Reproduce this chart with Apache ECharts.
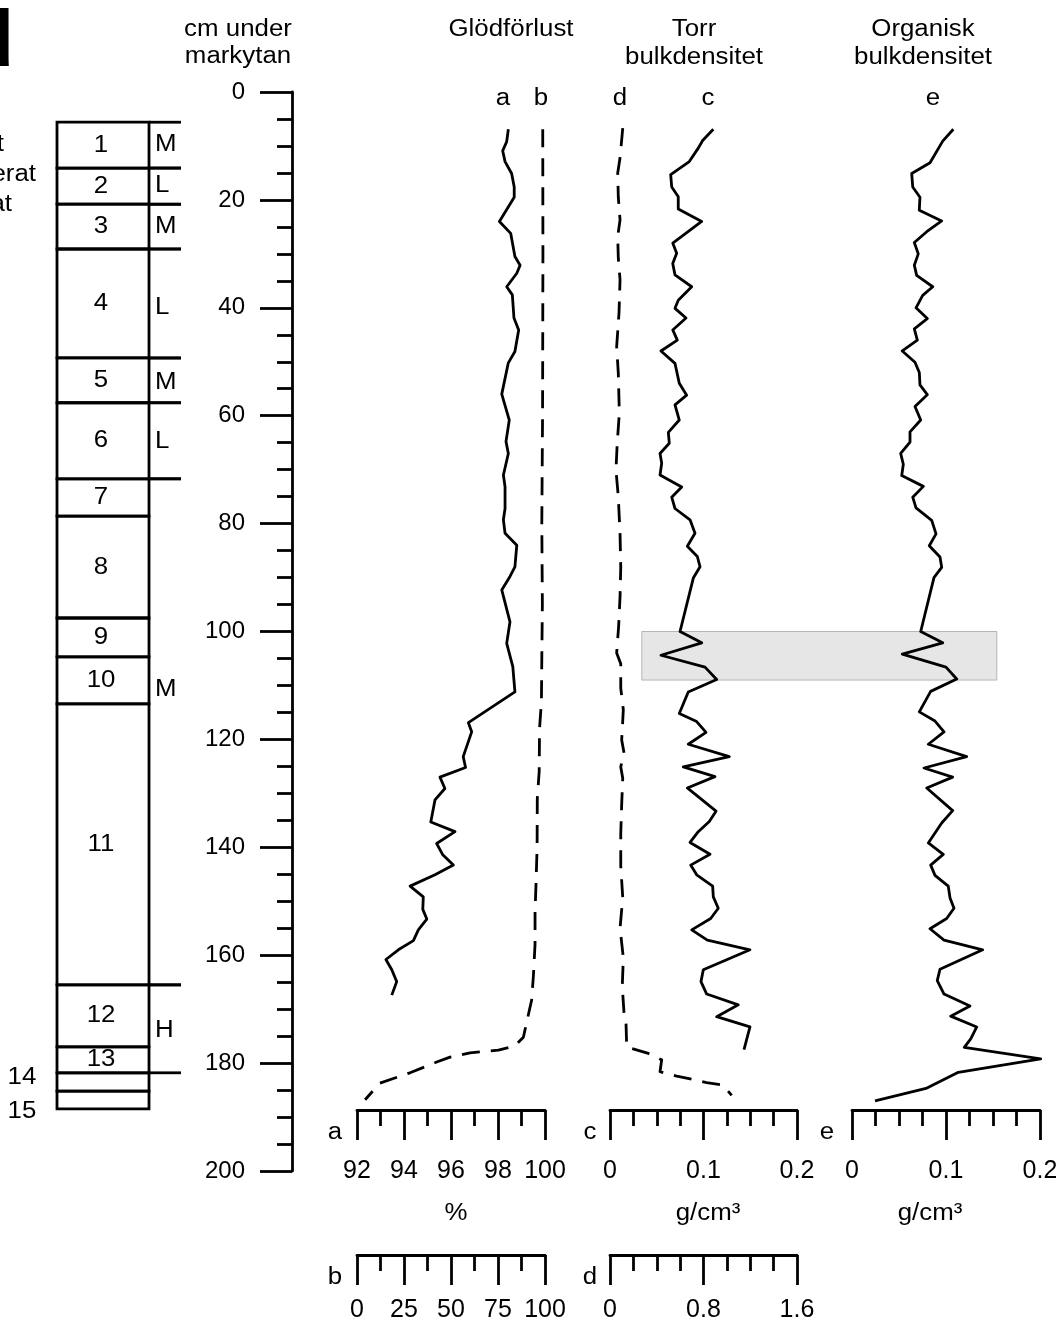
<!DOCTYPE html>
<html>
<head>
<meta charset="utf-8">
<script src="https://cdn.jsdelivr.net/npm/echarts@6/dist/echarts.min.js"></script>
<style>
  html, body { margin: 0; padding: 0; background: #fff; }
  #chart { width: 1056px; height: 1322px; }
</style>
</head>
<body>
<div id="chart"></div>
<script>
// ---------------- data ----------------
// Stratigraphic layers (cm below surface)
const layerTops    = [5.6, 14.1, 20.8, 29.1, 49.3, 57.6, 71.7, 78.6, 97.5, 104.7, 113.4, 165.5, 177.0, 181.8, 185.2];
const layerBottoms = [14.1, 20.8, 29.1, 49.3, 57.6, 71.7, 78.6, 97.5, 104.7, 113.4, 165.5, 177.0, 181.8, 185.2, 188.5];
const layerNames   = ['1', '2', '3', '4', '5', '6', '7', '8', '9', '10', '11', '12', '13', '14', '15'];

// Humification units beside the column
const unitTops        = [5.6, 14.1, 20.8, 29.1, 49.3, 57.6, 71.7, 165.5];
const unitBottoms     = [14.1, 20.8, 29.1, 49.3, 57.6, 71.7, 165.5, 181.8];
const unitNames       = ['M', 'L', 'M', 'L', 'M', 'L', 'M', 'H'];
const unitLabelDepths = [9.8, 17.4, 25.0, 40.0, 53.9, 64.7, 110.8, 173.9];

// a: loss on ignition (%), fine scale 92–100
const aDepth = [6.9, 9.2, 10.9, 12.9, 15.1, 17.6, 19.5, 24.0, 26.2, 30.5, 32.1, 33.6, 36.1, 37.6, 41.9, 44.1, 48.1, 50.2, 56.0, 60.8, 64.8, 67.0, 71.0, 73.2, 77.2, 79.3, 81.8, 84.0, 88.0, 89.8, 92.3, 98.2, 102.2, 106.5, 111.2, 116.9, 118.6, 123.2, 125.2, 127.0, 129.1, 131.2, 135.3, 137.1, 139.3, 141.4, 143.3, 145.1, 147.2, 149.2, 151.5, 153.3, 155.3, 157.3, 159.0, 160.8, 162.7, 164.9, 167.4];
const aValue = [98.44, 98.37, 98.20, 98.30, 98.58, 98.69, 98.69, 98.06, 98.54, 98.72, 98.94, 98.80, 98.37, 98.61, 98.68, 98.88, 98.72, 98.44, 98.16, 98.48, 98.34, 98.44, 98.23, 98.30, 98.30, 98.23, 98.30, 98.80, 98.72, 98.51, 98.16, 98.51, 98.37, 98.63, 98.72, 96.74, 96.88, 96.52, 96.62, 95.53, 95.74, 95.32, 95.14, 96.17, 95.39, 95.65, 96.10, 95.32, 94.26, 94.82, 94.80, 94.97, 94.61, 94.40, 93.76, 93.23, 93.48, 93.69, 93.48];

// b: loss on ignition (%), full scale 0–100
const bDepth = [6.9, 30, 60, 80, 95, 105, 113, 118, 126, 131, 140, 147, 152, 158, 164, 168.3, 175.2, 176.8, 177.6, 178.1, 178.9, 179.8, 181.8, 183.7, 186.8];
const bValue = [98.8, 98.9, 98.7, 98.3, 98.6, 98.3, 98.1, 97.1, 96.9, 95.9, 95.8, 95.2, 94.7, 94.7, 93.8, 92.9, 88.5, 84.0, 75.2, 60.1, 49.5, 42.4, 28.2, 12.2, 4.3];

// c: dry bulk density (g/cm³), fine scale 0–0.2
const cDepth = [6.9, 9.0, 10.4, 12.9, 15.3, 17.6, 19.4, 21.7, 24.0, 28.0, 29.9, 31.8, 33.9, 36.1, 38.6, 40.1, 41.9, 44.1, 46.0, 48.0, 50.3, 54.0, 56.2, 58.0, 60.8, 63.1, 65.1, 67.0, 68.8, 71.0, 73.2, 75.1, 77.2, 79.3, 81.8, 84.2, 86.1, 88.0, 90.1, 100.0, 102.1, 104.4, 106.6, 108.9, 111.2, 115.2, 116.7, 118.7, 120.9, 123.2, 125.1, 126.9, 129.0, 133.3, 135.2, 137.1, 139.1, 141.3, 143.3, 145.1, 147.2, 149.2, 151.3, 153.2, 155.3, 157.2, 159.0, 162.7, 164.9, 167.2, 169.2, 171.4, 173.3, 177.5];
const cValue = [0.1105, 0.0991, 0.0944, 0.0848, 0.0649, 0.0660, 0.0730, 0.0730, 0.0981, 0.0671, 0.0713, 0.0671, 0.0695, 0.0874, 0.0730, 0.0695, 0.0813, 0.0671, 0.0720, 0.0545, 0.0695, 0.0741, 0.0820, 0.0695, 0.0741, 0.0624, 0.0634, 0.0535, 0.0553, 0.0535, 0.0767, 0.0660, 0.0695, 0.0856, 0.0909, 0.0827, 0.0934, 0.0963, 0.0891, 0.0749, 0.0981, 0.0545, 0.1016, 0.1141, 0.0837, 0.0741, 0.0927, 0.1027, 0.0837, 0.1276, 0.0784, 0.1123, 0.0827, 0.1134, 0.1062, 0.0944, 0.0856, 0.1070, 0.0863, 0.0927, 0.1098, 0.1105, 0.1158, 0.1077, 0.0874, 0.1041, 0.1497, 0.0998, 0.0973, 0.1034, 0.1372, 0.1141, 0.1497, 0.1433];

// d: dry bulk density (g/cm³), full scale 0–1.6
const dDepth = [6.7, 12.2, 15.0, 19.5, 23.7, 26.8, 30.8, 34.8, 41.0, 47.2, 52.1, 59.5, 65.0, 70.1, 75.0, 82.0, 88.0, 93.5, 99.0, 104.0, 106.0, 110.5, 114.5, 120.1, 122.5, 125.1, 127.2, 132.0, 137.5, 143.5, 149.3, 155.0, 160.5, 165.8, 170.7, 172.6, 177.0, 178.2, 179.4, 181.6, 182.4, 183.6, 184.1, 186.0];
const dValue = [0.109, 0.086, 0.066, 0.071, 0.086, 0.066, 0.071, 0.086, 0.077, 0.057, 0.071, 0.080, 0.062, 0.051, 0.071, 0.086, 0.092, 0.086, 0.074, 0.057, 0.092, 0.092, 0.114, 0.100, 0.120, 0.092, 0.109, 0.100, 0.092, 0.092, 0.109, 0.086, 0.114, 0.105, 0.120, 0.137, 0.143, 0.328, 0.442, 0.428, 0.571, 0.827, 0.969, 1.041];

// e: organic bulk density (g/cm³), scale 0–0.2
const eDepth = [6.9, 9.1, 13.1, 15.1, 17.6, 19.5, 21.9, 23.9, 25.9, 27.9, 30.0, 32.1, 34.0, 36.1, 37.7, 40.0, 42.0, 43.9, 46.0, 48.0, 50.1, 52.0, 54.3, 56.1, 58.3, 60.8, 63.0, 64.9, 67.0, 69.0, 71.1, 73.1, 75.1, 77.1, 79.4, 81.9, 84.1, 86.2, 88.1, 90.0, 100.0, 102.1, 104.2, 106.6, 108.8, 111.1, 114.9, 116.6, 118.6, 120.9, 123.2, 125.3, 127.0, 129.0, 133.2, 135.5, 139.2, 141.3, 143.3, 145.2, 147.2, 149.4, 151.3, 153.2, 155.1, 157.2, 159.0, 162.6, 164.7, 167.2, 169.4, 171.3, 173.3, 175.5, 177.1, 179.2, 181.7, 184.7, 187.0];
const eValue = [0.1078, 0.0965, 0.0830, 0.0635, 0.0646, 0.0723, 0.0716, 0.0954, 0.0795, 0.0663, 0.0705, 0.0663, 0.0688, 0.0859, 0.0752, 0.0681, 0.0801, 0.0663, 0.0695, 0.0535, 0.0670, 0.0716, 0.0723, 0.0801, 0.0670, 0.0731, 0.0617, 0.0617, 0.0518, 0.0546, 0.0529, 0.0759, 0.0646, 0.0681, 0.0848, 0.0894, 0.0822, 0.0936, 0.0954, 0.0872, 0.0731, 0.0965, 0.0535, 0.1000, 0.1114, 0.0837, 0.0716, 0.0883, 0.0979, 0.0812, 0.1220, 0.0766, 0.1071, 0.0795, 0.1071, 0.0954, 0.0812, 0.0971, 0.0837, 0.0883, 0.1024, 0.1043, 0.1085, 0.1007, 0.0830, 0.0979, 0.1390, 0.0936, 0.0907, 0.0979, 0.1255, 0.1050, 0.1327, 0.1263, 0.1195, 0.2007, 0.1131, 0.0787, 0.0245];

// Highlighted depth interval
const highlightDepth = [100, 109];

// ---------------- chart ----------------
const FONT_FAMILY = '"Liberation Sans", Arial, sans-serif';
const FS_TEXT = 23.5;     // free text (slightly widened below)
const STRETCH = 1.1;
const FS_DEPTH = 24;
const FS_SCALE = 25;
const LW = 2.8;
const chart = echarts.init(document.getElementById('chart'), null, { renderer: 'canvas' });

const TOP = 92, H = 1079;          // depth 0 → 200 cm
const BOX_RIGHT = 0.742;           // column box edge (fraction of the column grid)

function pairs(depths, values) {
  return depths.map((d, i) => [values[i], d]);
}

function hiddenX(grid, min, max) {
  return { gridIndex: grid, type: 'value', min, max, show: false };
}
function hiddenY(grid, min, max, inverse) {
  return { gridIndex: grid, type: 'value', min, max, inverse: !!inverse, show: false };
}
function scaleAxis(grid, min, max, interval, split, lower) {
  return {
    gridIndex: grid, type: 'value', min, max, interval, position: 'bottom',
    axisLine: { show: true, onZero: false, lineStyle: { color: '#000', width: LW } },
    axisTick: { show: true, length: 30, lineStyle: { color: '#000', width: LW } },
    minorTick: { show: true, splitNumber: split, length: 16, lineStyle: { color: '#000', width: LW } },
    splitLine: { show: false }, minorSplitLine: { show: false },
    axisLabel: { show: true, margin: lower ? 43 : 49, color: '#000', fontSize: FS_SCALE, fontFamily: FONT_FAMILY, showMinLabel: true, showMaxLabel: true, hideOverlap: false }
  };
}

const grids = [
  { left: 292, top: TOP, width: 1, height: H },        // 0 depth axis
  { left: 57, top: TOP, width: 124, height: H },       // 1 strat column
  { left: 357, top: TOP, width: 188, height: H },      // 2 loss on ignition
  { left: 610, top: TOP, width: 187, height: H },      // 3 dry bulk density
  { left: 852, top: TOP, width: 188, height: H },      // 4 organic bulk density
  { left: 357, top: 1100, width: 188, height: 10 },    // 5 scale a
  { left: 357, top: 1245, width: 188, height: 10 },    // 6 scale b
  { left: 610, top: 1100, width: 187, height: 10 },    // 7 scale c
  { left: 610, top: 1245, width: 187, height: 10 },    // 8 scale d
  { left: 852, top: 1100, width: 188, height: 10 }     // 9 scale e
].map(g => Object.assign({ outerBoundsMode: 'none', containLabel: false }, g));

const xAxes = [
  hiddenX(0, 0, 1),
  hiddenX(1, 0, 1),
  hiddenX(2, 92, 100),   // 2 a
  hiddenX(2, 0, 100),    // 3 b
  hiddenX(3, 0, 0.2),    // 4 c
  hiddenX(3, 0, 1.6),    // 5 d
  hiddenX(4, 0, 0.2),    // 6 e
  scaleAxis(5, 92, 100, 2, 2, false),
  scaleAxis(6, 0, 100, 25, 2, true),
  scaleAxis(7, 0, 0.2, 0.1, 4, false),
  scaleAxis(8, 0, 1.6, 0.8, 4, true),
  scaleAxis(9, 0, 0.2, 0.1, 4, false)
];

const yAxes = [
  {
    gridIndex: 0, type: 'value', inverse: true, min: 0, max: 200, interval: 20, position: 'left',
    axisLine: { show: true, onZero: false, lineStyle: { color: '#000', width: LW } },
    axisTick: { show: true, length: 32, lineStyle: { color: '#000', width: LW } },
    minorTick: { show: true, splitNumber: 4, length: 15, lineStyle: { color: '#000', width: LW } },
    splitLine: { show: false }, minorSplitLine: { show: false },
    axisLabel: { margin: 47, color: '#000', fontSize: FS_DEPTH, fontFamily: FONT_FAMILY, showMinLabel: true, showMaxLabel: true }
  },
  hiddenY(1, 0, 200, true),
  hiddenY(2, 0, 200, true),
  hiddenY(3, 0, 200, true),
  hiddenY(4, 0, 200, true),
  hiddenY(5, 0, 1), hiddenY(6, 0, 1), hiddenY(7, 0, 1), hiddenY(8, 0, 1), hiddenY(9, 0, 1)
];

// Labels of thin layers go outside the column and are spread apart
const outsideLabelDepth = {};
(function () {
  const thin = [];
  layerTops.forEach((t, i) => { if ((layerBottoms[i] - t) * H / 200 < 22) thin.push(i); });
  const mids = thin.map(i => (layerTops[i] + layerBottoms[i]) / 2);
  const gap = 34 * 200 / H;
  const avg = mids.reduce((s, v) => s + v, 0) / mids.length + 0.6;
  thin.forEach((i, k) => { outsideLabelDepth[i] = avg + (k - (thin.length - 1) / 2) * gap; });
})();

function textEl(x, y, text, align, size) {
  return {
    type: 'text', x, y, scaleX: STRETCH, scaleY: 1,
    style: { text, fill: '#000', font: (size || FS_TEXT) + 'px ' + FONT_FAMILY, textAlign: align || 'center', textVerticalAlign: 'middle' }
  };
}

function renderLayer(params, api) {
  const i = params.dataIndex;
  const top = api.value(0), bot = api.value(1);
  const p0 = api.coord([0, top]);
  const p1 = api.coord([BOX_RIGHT, bot]);
  const children = [{
    type: 'rect',
    shape: { x: p0[0], y: p0[1], width: p1[0] - p0[0], height: p1[1] - p0[1] },
    style: { fill: 'none', stroke: '#000', lineWidth: LW }
  }];
  if (outsideLabelDepth[i] !== undefined) {
    const py = api.coord([0, outsideLabelDepth[i]])[1];
    children.push(textEl(p0[0] - 35, py, layerNames[i]));
  } else {
    children.push(textEl((p0[0] + p1[0]) / 2 - 2, (p0[1] + p1[1]) / 2, layerNames[i]));
  }
  return { type: 'group', children };
}

function renderUnit(params, api) {
  const i = params.dataIndex;
  const top = api.value(0), bot = api.value(1);
  const a = api.coord([BOX_RIGHT, top]), b = api.coord([1, top]);
  const c = api.coord([BOX_RIGHT, bot]), d = api.coord([1, bot]);
  const lbl = api.coord([BOX_RIGHT, unitLabelDepths[i]]);
  const ls = { stroke: '#000', lineWidth: LW };
  return {
    type: 'group',
    children: [
      { type: 'line', shape: { x1: a[0], y1: a[1], x2: b[0], y2: b[1] }, style: ls },
      { type: 'line', shape: { x1: c[0], y1: c[1], x2: d[0], y2: d[1] }, style: ls },
      textEl(lbl[0] + 6, lbl[1], unitNames[i], 'left')
    ]
  };
}

function lineSeries(name, xi, yi, data, dashed) {
  return {
    name, type: 'line', xAxisIndex: xi, yAxisIndex: yi, data,
    showSymbol: false, symbol: 'none', clip: false, silent: true, z: 5,
    lineStyle: { color: '#000', width: LW, type: dashed ? [18, 11] : 'solid', cap: 'butt', join: 'round' }
  };
}

const series = [
  { type: 'custom', name: 'layers', xAxisIndex: 1, yAxisIndex: 1, renderItem: renderLayer, silent: true,
    data: layerTops.map((t, i) => [t, layerBottoms[i]]) },
  { type: 'custom', name: 'units', xAxisIndex: 1, yAxisIndex: 1, renderItem: renderUnit, silent: true,
    data: unitTops.map((t, i) => [t, unitBottoms[i]]) },
  lineSeries('a', 2, 2, pairs(aDepth, aValue), false),
  lineSeries('b', 3, 2, pairs(bDepth, bValue), true),
  lineSeries('c', 4, 3, pairs(cDepth, cValue), false),
  lineSeries('d', 5, 3, pairs(dDepth, dValue), true),
  lineSeries('e', 6, 4, pairs(eDepth, eValue), false)
];

const texts = [
  textEl(238, 30, 'cm under'), textEl(238, 57, 'markytan'),
  textEl(511, 30, 'Glödförlust'),
  textEl(694, 30, 'Torr'), textEl(694, 58, 'bulkdensitet'),
  textEl(923, 30, 'Organisk'), textEl(923, 58, 'bulkdensitet'),
  textEl(503, 99, 'a'), textEl(541, 99, 'b'), textEl(620, 99, 'd'), textEl(708, 99, 'c'), textEl(933, 99, 'e'),
  textEl(335, 1133, 'a'), textEl(590, 1133, 'c'), textEl(827, 1133, 'e'),
  textEl(335, 1278, 'b'), textEl(590, 1278, 'd'),
  textEl(456, 1214, '%'), textEl(708, 1214, 'g/cm³'), textEl(930, 1214, 'g/cm³'),
  textEl(4, 145, 'Svagt', 'right'), textEl(36, 175, 'humifierat', 'right'), textEl(12, 205, 'substrat', 'right')
];

chart.setOption({
  animation: false,
  backgroundColor: '#fff',
  textStyle: { fontFamily: FONT_FAMILY },
  grid: grids,
  xAxis: xAxes,
  yAxis: yAxes,
  series
});

// Grey band across the c and e panels for the highlighted depth interval
const y0 = chart.convertToPixel({ yAxisIndex: 3 }, highlightDepth[0]);
const y1 = chart.convertToPixel({ yAxisIndex: 3 }, highlightDepth[1]);
const x0 = chart.convertToPixel({ xAxisIndex: 4 }, 0.034);
const x1 = chart.convertToPixel({ xAxisIndex: 6 }, 0.154);
chart.setOption({
  graphic: [
    { type: 'rect', z: 0, silent: true, shape: { x: x0, y: y0, width: x1 - x0, height: y1 - y0 },
      style: { fill: '#e6e6e6', stroke: '#b5b5b5', lineWidth: 1 } },
    { type: 'text', x: 14, y: 44, silent: true,
      style: { text: 'd', fill: '#000', font: 'bold 80px ' + FONT_FAMILY, textAlign: 'right', textVerticalAlign: 'middle' } }
  ].concat(texts.map(t => Object.assign({ silent: true, z: 10 }, t)))
});
</script>
</body>
</html>
